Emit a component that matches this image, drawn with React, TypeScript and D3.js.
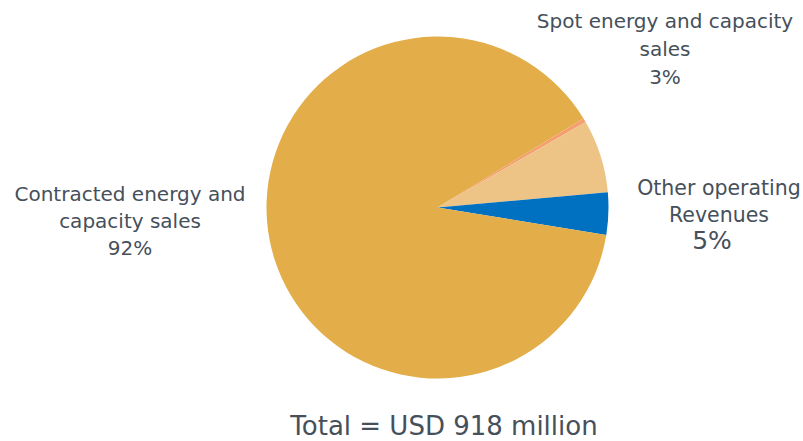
import React from "react";
import * as d3 from "d3";

// Slice data (share of revenue, clockwise from the salmon sliver)
const sliceKeys = ["spot-sliver", "spot", "other", "contracted"];
const sliceValues = [0.4, 6.9, 4.0, 88.7];
const sliceColors = ["#F59E72", "#EDC485", "#0070C0", "#E3AE4A"];

// Labels as shown on the chart
const contractedLabel = ["Contracted energy and", "capacity sales", "92%"];
const spotLabel = ["Spot energy and capacity", "sales", "3%"];
const otherLabel = ["Other operating", "Revenues", "5%"];
const totalLabel = "Total = USD 918 million";

const W = 803;
const H = 441;
const FONT = "'DejaVu Sans', Verdana, sans-serif";
const TEXT = "#46505a";

export default function App() {
  const cx = 437.5;
  const cy = 207.5;
  const r = 171;
  const start = (58.6 * Math.PI) / 180;
  const pie = d3
    .pie<number>()
    .sort(null)
    .value((d) => d)
    .startAngle(start)
    .endAngle(start + 2 * Math.PI);
  const arcs = pie(sliceValues);
  const arc = d3.arc<d3.PieArcDatum<number>>().innerRadius(0).outerRadius(r);

  return (
    <svg
      width={W}
      height={H}
      style={{ position: "absolute", left: 0, top: 0, background: "#fff" }}
    >
      <g transform={`translate(${cx},${cy})`}>
        {arcs.map((a, i) => (
          <path key={sliceKeys[i]} d={arc(a) || ""} fill={sliceColors[i]} />
        ))}
      </g>
      <g fontFamily={FONT} fill={TEXT} textAnchor="middle">
        {contractedLabel.map((t, i) => (
          <text key={"c" + i} x={130} y={201 + i * 27} fontSize={20}>
            {t}
          </text>
        ))}
        {spotLabel.map((t, i) => (
          <text key={"s" + i} x={665} y={28 + i * 28} fontSize={20}>
            {t}
          </text>
        ))}
        {otherLabel.map((t, i) => (
          <text
            key={"o" + i}
            x={i === 2 ? 712 : 719}
            y={i === 2 ? 249 : 195 + i * 27}
            fontSize={i === 2 ? 25 : 20.5}
          >
            {t}
          </text>
        ))}
        <text x={444} y={435} fontSize={26}>
          {totalLabel}
        </text>
      </g>
    </svg>
  );
}
